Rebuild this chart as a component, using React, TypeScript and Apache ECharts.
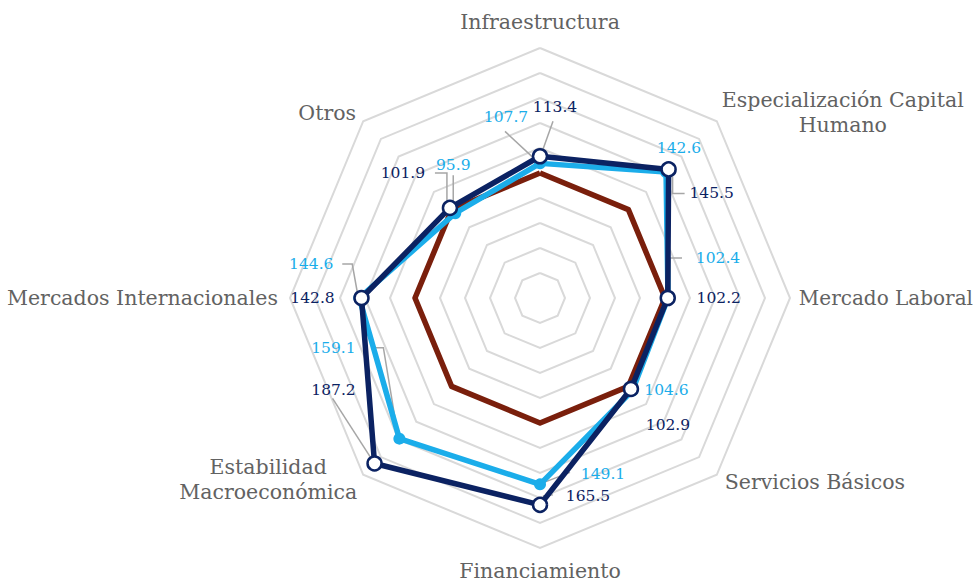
import React, { useEffect, useRef } from "react";
import * as echarts from "echarts";

// ---- Data (clockwise from top) ----
const indicatorNames = [
  "Infraestructura",
  "Especialización Capital\nHumano",
  "Mercado Laboral",
  "Servicios Básicos",
  "Financiamiento",
  "Estabilidad\nMacroeconómica",
  "Mercados Internacionales",
  "Otros",
];
const axisMax = 200;
const baseValues = [100, 100, 100, 100, 100, 100, 100, 100];
const blueValues = [107.7, 142.6, 102.4, 104.6, 149.1, 159.1, 144.6, 95.9];
const navyValues = [113.4, 145.5, 102.2, 102.9, 165.5, 187.2, 142.8, 101.9];

// ---- Style / layout (label offsets in px relative to the data point) ----
const NAVY = "#0b2262";
const BLUE = "#1badea";
const RED = "#7a1f0c";
const FONT = "DejaVu Serif";

type Lay = { dx: number; dy: number; leader: number[][] | null };
const navyLayout: Lay[] = [
  { dx: 15, dy: -49, leader: [[3, -7], [13, -35]] },
  { dx: 43, dy: 24, leader: [[4, 7], [4, 24], [16, 24]] },
  { dx: 51, dy: 0, leader: null },
  { dx: 37, dy: 36, leader: null },
  { dx: 48, dy: -9, leader: [[3, -9], [13, -10]] },
  { dx: -41, dy: -73, leader: [[-4, -6], [-42, -65]] },
  { dx: -49, dy: 0, leader: null },
  { dx: -47, dy: -35, leader: [[-3, -6], [-3, -35], [-15, -35]] },
];
const blueLayout: Lay[] = [
  { dx: -34, dy: -46, leader: [[-5, -4], [-35, -32]] },
  { dx: 13, dy: -24, leader: null },
  { dx: 50, dy: -40, leader: [[2, -5], [2, -40], [14, -40]] },
  { dx: 34, dy: 0, leader: null },
  { dx: 63, dy: -10, leader: [[4, -2], [30, -12]] },
  { dx: -66, dy: -91, leader: [[-2, -6], [-16, -91], [-28, -91]] },
  { dx: -48, dy: -34, leader: [[-2, -6], [-7, -34], [-17, -34]] },
  { dx: -2, dy: -48, leader: [[-2, -8], [-2, -38]] },
];
const nameLayout = [
  { dx: 0, dy: -26, align: "center", size: 20.5, lh: 22 },
  { dx: 126, dy: -9, align: "center", size: 20.5, lh: 25 },
  { dx: 183, dy: 0, align: "right", size: 20, lh: 22 },
  { dx: 8, dy: 7, align: "left", size: 20.5, lh: 22 },
  { dx: 0, dy: 23, align: "center", size: 20.5, lh: 20 },
  { dx: -95, dy: 5, align: "center", size: 20.5, lh: 25 },
  { dx: -12, dy: 0, align: "right", size: 20.5, lh: 22 },
  { dx: -36, dy: -8, align: "center", size: 20.5, lh: 22 },
];

const CENTER = [540, 298];
const RADIUS = 250;

// ECharts radar runs counter-clockwise; map to that order
const n = indicatorNames.length;
const ecOrder = Array.from({ length: n }, (_, k) => (n - k) % n);
const toEc = (arr: number[]) => ecOrder.map((i) => arr[i]);

export default function App() {
  const ref = useRef<HTMLDivElement>(null);
  useEffect(() => {
    if (!ref.current) return;
    const chart = echarts.init(ref.current, null, { renderer: "svg" });

    // items for custom overlay: [radiusValue, angleIndex, kind, idx]
    // kind 0 = navy label, 1 = blue label, 2 = axis name
    const overlay: number[][] = [];
    navyValues.forEach((v, i) => overlay.push([v, i, 0, i]));
    blueValues.forEach((v, i) => overlay.push([v, i, 1, i]));
    indicatorNames.forEach((_, i) => overlay.push([axisMax, i, 2, i]));

    const renderItem = (params: any, api: any) => {
      const p = api.coord([api.value(0), api.value(1)]);
      const kind = api.value(2);
      const idx = api.value(3);
      if (kind === 2) {
        const L = nameLayout[idx];
        return {
          type: "text",
          x: p[0] + L.dx,
          y: p[1] + L.dy,
          style: {
            text: indicatorNames[idx],
            fill: "#626262",
            fontFamily: FONT,
            fontSize: L.size,
            lineHeight: L.lh,
            align: L.align,
            verticalAlign: "middle",
          },
        };
      }
      const L = kind === 0 ? navyLayout[idx] : blueLayout[idx];
      const val = kind === 0 ? navyValues[idx] : blueValues[idx];
      const children: any[] = [];
      if (L.leader) {
        children.push({
          type: "polyline",
          shape: { points: L.leader.map((o) => [p[0] + o[0], p[1] + o[1]]) },
          style: { stroke: "#a6a6a6", lineWidth: 1.5, fill: null },
        });
      }
      children.push({
        type: "text",
        x: p[0] + L.dx,
        y: p[1] + L.dy,
        style: {
          text: val.toFixed(1),
          fill: kind === 0 ? NAVY : BLUE,
          fontFamily: FONT,
          fontSize: 15.5,
          align: "center",
          verticalAlign: "middle",
        },
      });
      return { type: "group", children };
    };

    chart.setOption({
      animation: false,
      backgroundColor: "#ffffff",
      radar: {
        center: CENTER,
        radius: RADIUS,
        startAngle: 90,
        splitNumber: 10,
        shape: "polygon",
        indicator: ecOrder.map((i) => ({
          name: indicatorNames[i],
          min: 0,
          max: axisMax,
        })),
        axisName: { show: false },
        axisLine: { show: false },
        axisTick: { show: false },
        axisLabel: { show: false },
        splitArea: { show: false },
        splitLine: { lineStyle: { color: "#d9d9d9", width: 2 } },
      },
      polar: { center: CENTER, radius: RADIUS },
      angleAxis: {
        type: "value",
        min: 0,
        max: n,
        startAngle: 90,
        clockwise: true,
        show: false,
        splitLine: { show: false },
      },
      radiusAxis: {
        type: "value",
        min: 0,
        max: axisMax,
        show: false,
        splitLine: { show: false },
      },
      series: [
        {
          type: "custom",
          coordinateSystem: "polar",
          z: 1,
          renderItem,
          data: overlay,
          silent: true,
        },
        {
          type: "radar",
          z: 2,
          data: [
            {
              name: "Base",
              value: toEc(baseValues),
              symbol: "none",
              lineStyle: { color: RED, width: 5.5 },
              itemStyle: { color: RED },
            },
          ],
        },
        {
          type: "radar",
          z: 3,
          data: [
            {
              name: "Serie 1",
              value: toEc(blueValues),
              symbol: "circle",
              symbolSize: 12,
              lineStyle: { color: BLUE, width: 5.5 },
              itemStyle: { color: BLUE },
            },
          ],
        },
        {
          type: "radar",
          z: 4,
          data: [
            {
              name: "Serie 2",
              value: toEc(navyValues),
              symbol: "circle",
              symbolSize: 14,
              lineStyle: { color: NAVY, width: 5.5 },
              itemStyle: { color: "#ffffff", borderColor: NAVY, borderWidth: 2.5 },
            },
          ],
        },
      ],
    });
    return () => chart.dispose();
  }, []);
  return (
    <div
      ref={ref}
      style={{ position: "absolute", left: 0, top: 0, width: 977, height: 582 }}
    />
  );
}
